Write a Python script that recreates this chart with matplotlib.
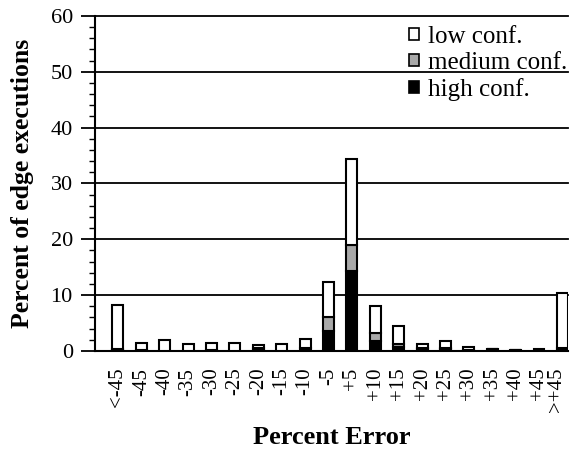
import numpy as np
import matplotlib
matplotlib.use("Agg")
import matplotlib.pyplot as plt
import matplotlib.transforms as mtransforms
from matplotlib.patches import Patch

plt.rcParams['font.family'] = ['Liberation Serif', 'DejaVu Serif']

# percent error bins
labels = ['<-45', '-45', '-40', '-35', '-30', '-25', '-20', '-15', '-10', '-5',
          '+5', '+10', '+15', '+20', '+25', '+30', '+35', '+40', '+45', '>+45']
# segment heights (percent of edge executions)
high = [0.2, 0.1, 0.0, 0.0, 0.1, 0.0, 0.2, 0.0, 0.5, 3.5,
        14.4, 1.8, 0.7, 0.3, 0.3, 0.1, 0.3, 0.2, 0.0, 0.2]
medium = [0.1, 0.0, 0.0, 0.0, 0.0, 0.0, 0.3, 0.0, 0.1, 2.5,
          4.5, 1.5, 0.6, 0.3, 0.3, 0.1, 0.0, 0.0, 0.05, 0.3]
low = [7.9, 1.4, 2.0, 1.2, 1.4, 1.5, 0.6, 1.3, 1.6, 6.4,
       15.5, 4.8, 3.2, 0.6, 1.1, 0.5, 0.0, 0.0, 0.25, 9.8]

x = np.arange(len(labels))
high = np.array(high)
medium = np.array(medium)
low = np.array(low)

fig = plt.figure(figsize=(5.7, 4.62), dpi=100)
ax = fig.add_axes([0.1667, 0.2403, 0.8298, 0.7251])

w = 0.47
kw = dict(width=w, edgecolor='black', linewidth=1.5, zorder=3)
ax.bar(x, high, color='black', **kw)
ax.bar(x, medium, bottom=high, color='#a8a8a8', **kw)
ax.bar(x, low, bottom=high + medium, color='white', **kw)

ax.set_ylim(0, 60)
ax.set_xlim(-0.98, 19.24)
ax.set_yticks(np.arange(0, 61, 10))
ax.set_yticks(np.arange(0, 61, 2), minor=True)
ax.tick_params(axis='y', which='major', length=10, width=1.3, labelsize=16, direction='out', pad=6)
ax.tick_params(axis='y', which='minor', length=4.5, width=1.0, direction='out')
ax.set_xticks(x)
ax.set_xticklabels(labels, rotation=90, fontsize=15)
ax.tick_params(axis='x', length=0, pad=12)
# keep the last label inside the figure
last = ax.get_xticklabels()[-1]
last.set_transform(last.get_transform() +
                   mtransforms.ScaledTranslation(-6 / 100, 0, fig.dpi_scale_trans))

for v in range(10, 61, 10):
    ax.axhline(v, color='black', linewidth=1.3, zorder=1, clip_on=False)

for s in ['top', 'right']:
    ax.spines[s].set_visible(False)
ax.spines['left'].set_linewidth(1.5)
ax.spines['bottom'].set_linewidth(1.5)

ax.set_ylabel('Percent of edge executions', fontsize=18.5, fontweight='bold', labelpad=12)
ax.set_xlabel('Percent Error', fontsize=19, fontweight='bold', labelpad=10)

handles = [Patch(facecolor='white', edgecolor='black', linewidth=1.2, label='low conf.'),
           Patch(facecolor='#a8a8a8', edgecolor='black', linewidth=1.2, label='medium conf.'),
           Patch(facecolor='black', edgecolor='black', linewidth=1.2, label='high conf.')]
ax.legend(handles=handles, loc='upper right', bbox_to_anchor=(1.035, 1.022), frameon=False,
          fontsize=18, handlelength=0.4, handleheight=0.4, handletextpad=0.35,
          labelspacing=0.16, borderpad=0.2)

fig.savefig('out.png', dpi=100)
